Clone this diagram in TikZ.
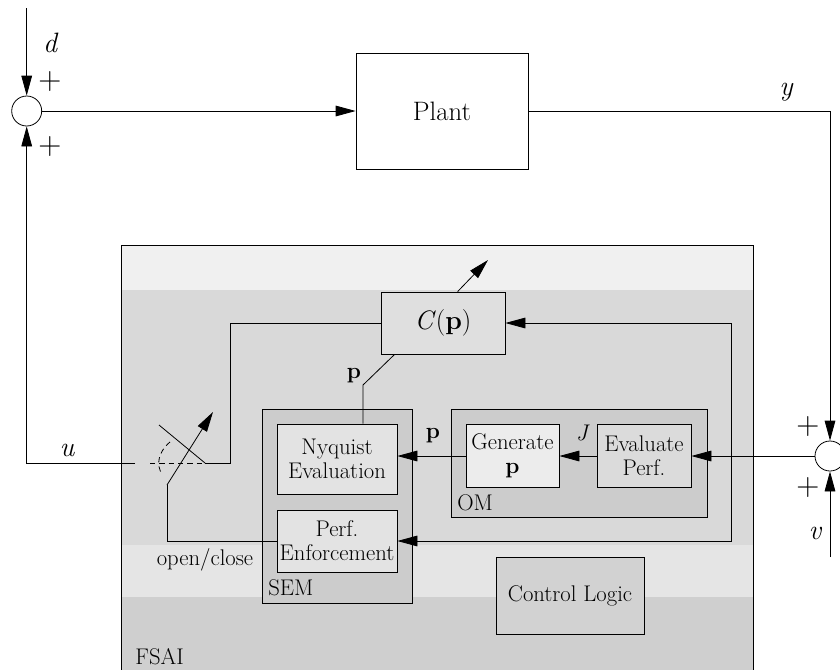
\documentclass[tikz,border=0pt]{standalone}
\usetikzlibrary{arrows.meta,calc}
\begin{document}
\begin{tikzpicture}[x=0.75pt,y=-0.75pt,
  font=\fontsize{17}{18}\selectfont,
  line width=0.6pt,
  arr/.style={-{Triangle[length=15pt,width=8pt]}},
  blk/.style={draw, rectangle, inner sep=0pt, align=center},
  sumc/.style={draw, circle, minimum size=22.5pt, inner sep=0pt, fill=white},
  lbl/.style={inner sep=0pt},
  var/.style={inner sep=0pt, font=\fontsize{21}{24}\selectfont\itshape},
  sgn/.style={inner sep=0pt, font=\fontsize{24}{26}\selectfont},
  dsh/.style={dash pattern=on 4pt off 3pt}]
\useasboundingbox (0,0) rectangle (840,669);
% FSAI container
\fill[gray!12] (121,245) rectangle (753,290);
\fill[gray!30] (121,290) rectangle (753,545);
\fill[gray!20] (121,545) rectangle (753,597);
\fill[gray!38] (121,597) rectangle (753,672);
\draw (121,672) -- (121,245) -- (753,245) -- (753,672);
% nodes
\node[sumc] (s1) at (26.7,111) {};
\node[blk, fill=white, minimum width=129pt, minimum height=87pt, font=\fontsize{20}{22}\selectfont] (plant) at (442,111) {Plant};
\node[sumc] (s2) at (830,456) {};
\node[blk, fill=gray!25, minimum width=93pt, minimum height=46.5pt, font=\fontsize{20}{22}\selectfont] (cp) at (443,323) {\textit{C}(\textbf{p})};
\node[blk, fill=gray!40, minimum width=112.5pt, minimum height=145.5pt] (sem) at (337,506) {};
\node[blk, fill=gray!22, minimum width=90pt, minimum height=52.5pt] (nyq) at (337,459) {Nyquist\\Evaluation};
\node[blk, fill=gray!22, minimum width=90pt, minimum height=46.5pt] (perf) at (337,541) {Perf.\\Enforcement};
\node[blk, fill=gray!40, minimum width=192pt, minimum height=81pt] (om) at (579,463) {};
\node[blk, fill=gray!15, minimum width=69.75pt, minimum height=47.25pt] (gen) at (512.5,456) {Generate\\\textbf{p}};
\node[blk, fill=gray!28, minimum width=70.5pt, minimum height=47.25pt] (eval) at (644,456) {Evaluate\\Perf.};
\node[blk, fill=gray!35, minimum width=111pt, minimum height=57.75pt] (ctl) at (570,595.5) {Control Logic};
% labels
\node[var] (dl) at (50,43) {d};
\node[sgn] (pa) at (50,82) {+};
\node[sgn] (pb) at (50,147) {+};
\node[var] (yl) at (786,92) {y};
\node[sgn] (pc) at (808,427) {+};
\node[sgn] (pd) at (808,488) {+};
\node[var] (vl) at (815,533) {v};
\node[var] (ul) at (67,450) {u};
\node[lbl, font=\fontsize{17}{18}\selectfont\itshape] (jl) at (582,433) {J};
\node[lbl] (pl1) at (433,436) {\textbf{p}};
\node[lbl] (pl2) at (354,376) {\textbf{p}};
\node[lbl] (ocl) at (205,560) {open/close};
\node[lbl, anchor=west] (seml) at (268,588) {SEM};
\node[lbl, anchor=west] (oml) at (457,503) {OM};
\node[lbl, anchor=west] (fsail) at (135,657) {FSAI};
% coordinates
\coordinate (dtop) at (26.7,8);
\coordinate (ycorner) at (830,111);
\coordinate (vbot) at (830,557);
\coordinate (lt) at (731,323);
\coordinate (lb) at (731,541);
\coordinate (pk) at (363,385);
\coordinate (cpa) at (488,260);
\coordinate (u1) at (135,463);
\coordinate (dsa) at (150,463);
\coordinate (sw1) at (205,463);
\coordinate (sw2) at (230,463);
\coordinate (bl) at (159,425);
\coordinate (oc) at (167,485);
\coordinate (at) at (213,412);
\coordinate (arcA) at (170,442);
\coordinate (arcB) at (162,474);
% connectors
\draw[arr] (dtop) -- (s1.north);
\draw[arr] (s1.east) -- (plant.west);
\draw[arr] (plant.east) -- (ycorner) -- (s2.north);
\draw[arr] (vbot) -- (s2.south);
\draw[arr] (s2.west) -- (eval.east);
\draw[arr] (eval.west) -- (gen.east);
\draw[arr] (gen.west) -- (gen.west -| nyq.east);
\draw[arr] (lt) -- (cp.east);
\draw[arr] (lt) -- (lb) -- (perf.east);
\draw ($(cp.south west)+(14,0)$) -- (pk) -- (pk |- nyq.north);
\draw[arr] ($(cp.north west)+(77,0)$) -- (cpa);
\draw[arr] (u1) -- (u1 -| s1.south) -- (s1.south);
\draw[dsh] (dsa) -- (sw1);
\draw (sw1) -- (sw2) -- (sw2 |- cp.west) -- (cp.west);
\draw (bl) -- (sw1);
\draw[dsh] (arcA) .. controls (158,452) and (156,465) .. (arcB);
\draw[arr] (oc) -- (at);
\draw (perf.west) -- (perf.west -| oc) -- (oc);
\end{tikzpicture}
\end{document}
